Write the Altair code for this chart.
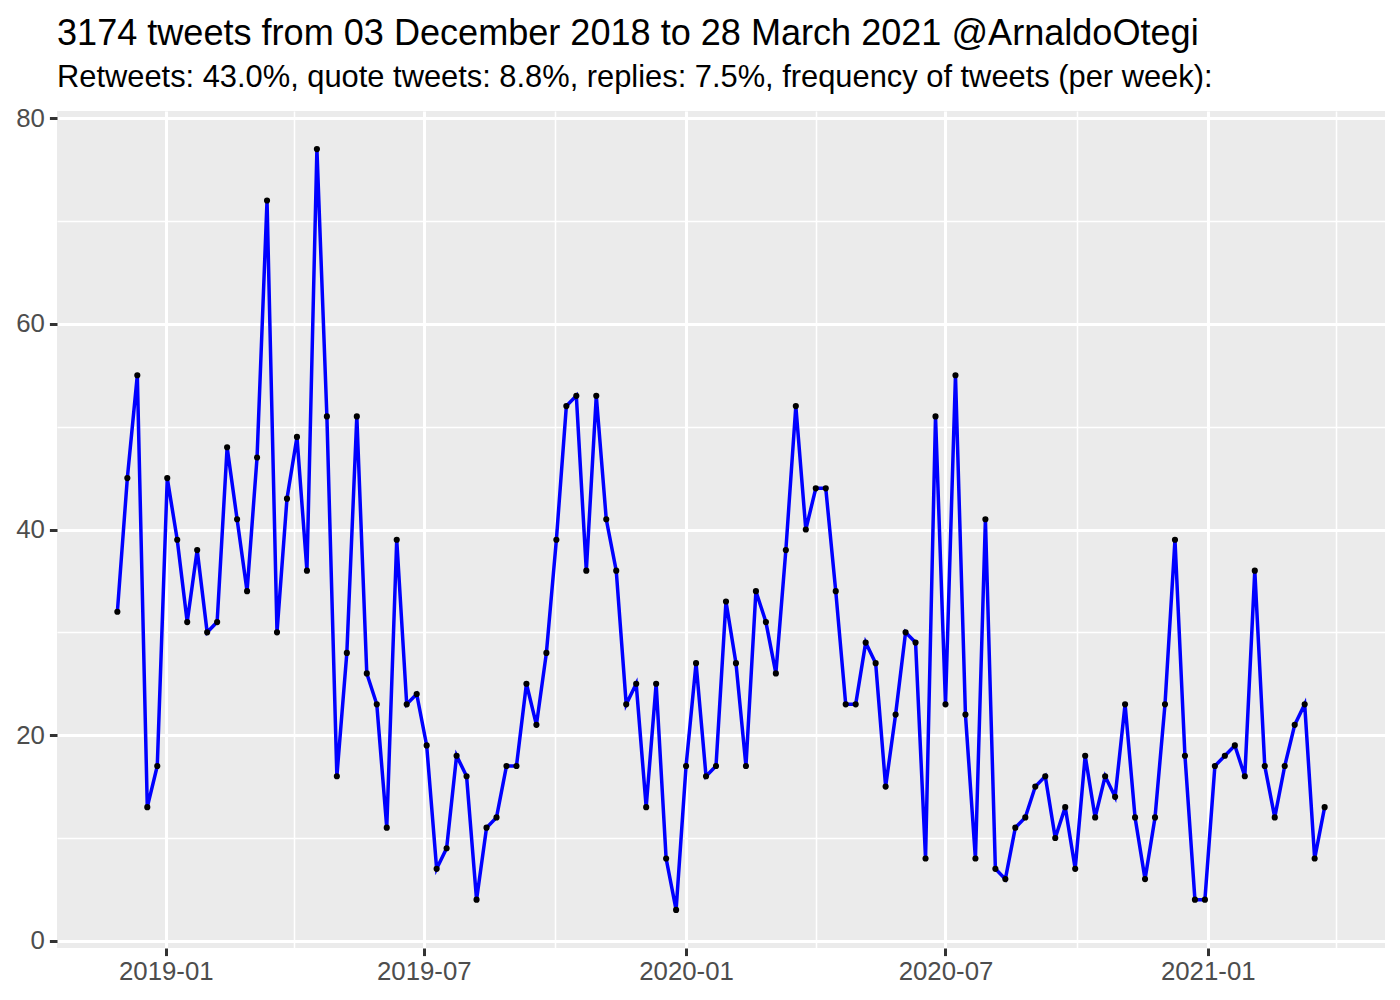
import altair as alt
import pandas as pd

# ---- data (tweets per week) ----
tweets_per_week = [
    32, 45, 55, 13, 17, 45, 39, 31, 38, 30,
    31, 48, 41, 34, 47, 72, 30, 43, 49, 36,
    77, 51, 16, 28, 51, 26, 23, 11, 39, 23,
    24, 19, 7, 9, 18, 16, 4, 11, 12, 17,
    17, 25, 21, 28, 39, 52, 53, 36, 53, 41,
    36, 23, 25, 13, 25, 8, 3, 17, 27, 16,
    17, 33, 27, 17, 34, 31, 26, 38, 52, 40,
    44, 44, 34, 23, 23, 29, 27, 15, 22, 30,
    29, 8, 51, 23, 55, 22, 8, 41, 7, 6,
    11, 12, 15, 16, 10, 13, 7, 18, 12, 16,
    14, 23, 12, 6, 12, 23, 39, 18, 4, 4,
    17, 18, 19, 16, 36, 17, 12, 17, 21, 23, 8, 13,
]
first_week = "2018-11-28"
weeks = pd.date_range(first_week, periods=len(tweets_per_week), freq="7D")

# axis breaks (major every 6 months, minor in between)
x_break_months = [(2019, 1), (2019, 4), (2019, 7), (2019, 10), (2020, 1),
                  (2020, 4), (2020, 7), (2020, 10), (2021, 1), (2021, 4)]
y_breaks = [0, 10, 20, 30, 40, 50, 60, 70, 80]

title_text = "3174 tweets from 03 December 2018 to 28 March 2021 @ArnaldoOtegi"
subtitle_text = ("Retweets: 43.0%, quote tweets: 8.8%, replies: 7.5%, "
                 "frequency of tweets (per week):")

df = pd.DataFrame({"week": weeks, "n": tweets_per_week})

# ggplot-like 5% expansion of the scales
span = weeks[-1] - weeks[0]
x_lo = (weeks[0] - span * 0.05).to_pydatetime()
x_hi = (weeks[-1] + span * 0.05).to_pydatetime()


def dt(d):
    return alt.DateTime(year=d.year, month=d.month, date=d.day,
                        hours=d.hour, minutes=d.minute)


y_min, y_max = min(tweets_per_week), max(tweets_per_week)
y_pad = (y_max - y_min) * 0.05

FONT = "Liberation Sans"
TICK_FONT = 25.8

x_axis = alt.Axis(
    values=[alt.DateTime(year=y, month=m, date=1) for y, m in x_break_months],
    format="%Y-%m",
    labelExpr="month(datum.value) % 6 === 0 ? timeFormat(datum.value, '%Y-%m') : ''",
    domain=False,
    grid=True,
    gridColor="white",
    gridWidth={"condition": {"test": "month(datum.value) % 6 === 0", "value": 3}, "value": 1.5},
    ticks=True,
    tickColor="#333333",
    tickWidth=3,
    tickSize=7.6,
    tickOpacity={"condition": {"test": "month(datum.value) % 6 === 0", "value": 1}, "value": 0},
    labelColor="#4D4D4D",
    labelFont=FONT,
    labelFontSize=TICK_FONT,
    labelPadding=4,
    labelFlush=False,
    labelOverlap=False,
    labelBound=False,
    title=None,
)

y_axis = alt.Axis(
    values=y_breaks,
    format="d",
    labelExpr="datum.value % 20 === 0 ? datum.label : ''",
    domain=False,
    grid=True,
    gridColor="white",
    gridWidth={"condition": {"test": "datum.value % 20 === 0", "value": 3}, "value": 1.5},
    ticks=True,
    tickColor="#333333",
    tickWidth=3,
    tickSize=7.6,
    tickOpacity={"condition": {"test": "datum.value % 20 === 0", "value": 1}, "value": 0},
    labelColor="#4D4D4D",
    labelFont=FONT,
    labelFontSize=TICK_FONT,
    labelPadding=5,
    labelOverlap=False,
    labelBound=False,
    title=None,
)

base = alt.Chart(df).encode(
    x=alt.X("week:T",
            scale=alt.Scale(domain=[dt(x_lo), dt(x_hi)], nice=False),
            axis=x_axis),
    y=alt.Y("n:Q",
            scale=alt.Scale(domain=[y_min - y_pad, y_max + y_pad], nice=False, zero=False),
            axis=y_axis),
)

line = base.mark_line(color="#0000FF", strokeWidth=3.5)
points = base.mark_circle(color="black", size=38, opacity=1)

chart = (
    alt.layer(line, points)
    .properties(
        width=1328,
        height=837,
        padding={"left": 49, "top": 103, "right": 7, "bottom": 40},
        autosize=alt.AutoSizeParams(type="none"),
        title=alt.TitleParams(
            text=title_text,
            subtitle=subtitle_text,
            anchor="start",
            frame="group",
            font=FONT,
            fontSize=36.1,
            fontWeight="normal",
            color="black",
            subtitleFont=FONT,
            subtitleFontSize=30.85,
            subtitleColor="black",
            subtitlePadding=11,
            offset=12,
        ),
    )
    .configure(background="white")
    .configure_view(fill="#EBEBEB", strokeWidth=0)
)

chart.save("out.html", embed_options={"renderer": "svg", "actions": False})
